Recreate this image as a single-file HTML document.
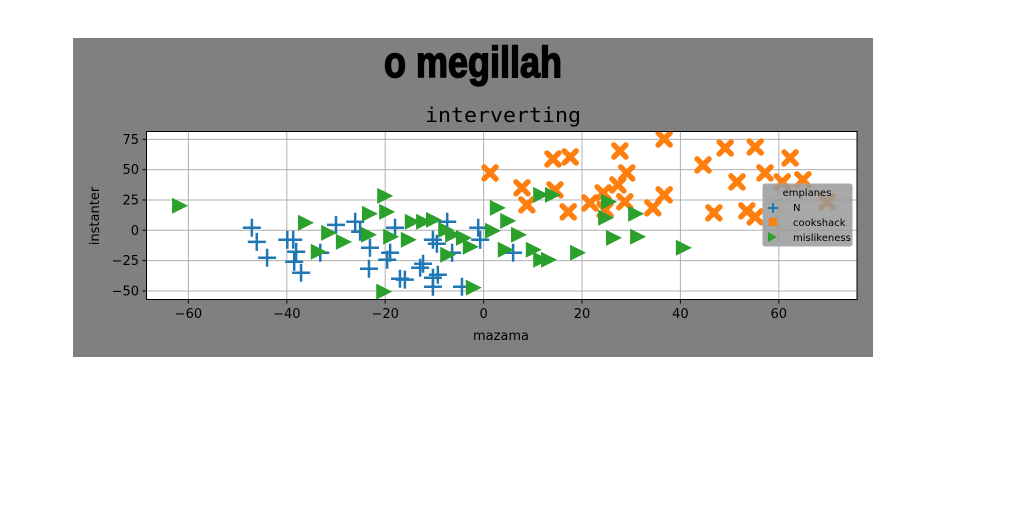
<!DOCTYPE html>
<html><head><meta charset="utf-8"><style>
body{margin:0;background:#fff;}
svg{display:block;font-family:"DejaVu Sans","Liberation Sans",sans-serif;}
</style></head><body>
<svg id="chart" width="1024" height="512" viewBox="0 0 1024 512" xmlns="http://www.w3.org/2000/svg">
<rect x="73" y="38" width="800" height="319" fill="#808080"/>
<text x="473" y="77" text-anchor="middle" font-family="'Liberation Sans Narrow','Liberation Sans',sans-serif" font-weight="bold" font-size="44" textLength="178" lengthAdjust="spacingAndGlyphs" fill="#000" stroke="#000" stroke-width="1.6">o megillah</text>
<text x="503" y="122" text-anchor="middle" font-family="'DejaVu Sans Mono','Liberation Mono',monospace" font-size="20" textLength="156" lengthAdjust="spacingAndGlyphs" fill="#000">interverting</text>
<rect x="146.5" y="131.5" width="710.5" height="168" fill="#fff"/>
<g id="grid"></g>
<g id="marks"></g>
<rect x="146.5" y="131.5" width="710.5" height="168" fill="none" stroke="#000" stroke-width="1"/>
<g id="ticks"></g>
<text x="501" y="340" text-anchor="middle" font-size="13" fill="#000">mazama</text>
<text transform="translate(99,216) rotate(-90)" text-anchor="middle" font-size="13" fill="#000">instanter</text>
<g>
<rect x="763" y="184" width="89" height="62" fill="#999" fill-opacity="0.85" stroke="#aaa" rx="2"/>
<text x="807" y="196" text-anchor="middle" font-size="10" fill="#000">emplanes</text>
<g><path d="M768,208h10M773,203v10" stroke="#1f77b4" stroke-width="2"/><text x="793" y="211" font-size="10">N</text></g>
<g><rect x="769" y="218" width="8" height="8" fill="#ff7f0e"/><text x="793" y="226" font-size="10">cookshack</text></g>
<g><path d="M768,232l9,5l-9,5z" fill="#2ca02c"/><text x="793" y="241" font-size="10">mislikeness</text></g>
</g>
</svg>
<script>
const xTicks=[-60,-40,-20,0,20,40,60];
const yTicks=[-50,-25,0,25,50,75];
const nX=[-47.1,-46.1,-44.0,-39.9,-38.7,-38.1,-38.5,-37.1,-33.2,-30.0,-26.1,-25.1,-23.1,-23.3,-19.6,-18.0,-19.0,-17.0,-16.0,-12.9,-12.3,-10.3,-9.5,-7.4,-10.3,-9.3,-10.3,-4.4,-1.1,-0.7,-6.4,6.0];
const nY=[2.1,-9.5,-22.6,-7.8,-7.8,-17.7,-25.9,-35,-18.5,4.5,7,-1.2,-14.4,-31.7,-24.3,2.1,-18.5,-39.9,-40.7,-30.9,-27.6,-7.8,-11.1,7,-39.1,-36.6,-46.5,-46.5,2.1,-7.8,-18.5,-18.5];
const cX=[1.3,7.8,8.8,14.1,17.6,14.5,17.2,21.6,24.3,24.7,27.3,27.7,29.1,28.7,34.4,36.7,36.7,44.6,46.8,49.1,51.5,55.2,57.2,53.5,55.2,62.3,60.7,64.9,69.8];
const cY=[47.3,35,21,58.8,60.5,33.3,15.2,22.6,30.9,16.9,37.4,65.4,47.3,23.5,18.5,75.3,29.2,53.9,14.4,67.9,39.9,68.7,47.3,16.0,11.1,59.7,39.9,41.6,23.5];
const mX=[-61.9,-20.2,-36.3,-19.8,-23.3,-31.6,-28.6,-33.7,-23.5,-19.0,-15.4,-14.6,-12.3,-10.3,-7.8,-6.4,-4.2,-2.8,-7.4,-20.4,-2.2,1.7,2.7,4.8,7.0,4.3,10.0,11.5,13.1,19.0,11.5,13.9,25.3,24.7,30.8,26.3,31.2,40.5];
const mY=[20.2,28.4,6.2,15.2,13.6,-2.1,-9.5,-17.7,-3.7,-5.3,-7.8,7,7,8.6,0.4,-3.7,-6.2,-13.6,-20.2,-50.6,-47.3,-0.4,18.5,7.8,-3.7,-16.0,-16.0,-24.3,-24.3,-18.5,29.2,29.2,23.5,10.3,13.6,-6.2,-5.3,-14.4];
const NS='http://www.w3.org/2000/svg';
function sx(v){return 483.6+v*4.92;}
function sy(v){return 230.3-v*1.213;}
function mk(tag,attrs,parent){const e=document.createElementNS(NS,tag);for(const k in attrs)e.setAttribute(k,attrs[k]);parent.appendChild(e);return e;}
const grid=document.getElementById('grid'),ticks=document.getElementById('ticks'),marks=document.getElementById('marks');
xTicks.forEach(t=>{const x=sx(t);
 const g=mk('line',{x1:x,x2:x,y1:131.5,y2:299.5,stroke:'#b0b0b0','stroke-width':1},grid);
 
 
 const tk=mk('line',{x1:x,x2:x,y1:299.5,y2:303.5,stroke:'#000'},ticks);
 
 
 const lb=mk('text',{x:x,y:318,'text-anchor':'middle','font-size':13},ticks);lb.textContent=(t<0?'\u2212'+(-t):t);
 
 
});
yTicks.forEach(t=>{const y=sy(t);
 const g=mk('line',{x1:146.5,x2:857,y1:y,y2:y,stroke:'#b0b0b0','stroke-width':1},grid);
 
 
 const tk=mk('line',{x1:142.5,x2:146.5,y1:y,y2:y,stroke:'#000'},ticks);
 
 
 const lb=mk('text',{x:139,y:y+4.5,'text-anchor':'end','font-size':13},ticks);lb.textContent=(t<0?'\u2212'+(-t):t);
 
 
});
nX.forEach((v,i)=>{const x=sx(v),y=sy(nY[i]);
 const p=mk('path',{d:`M${x-9},${y}h18M${x},${y-9}v18`,stroke:'#1f77b4','stroke-width':2.5,fill:'none'},marks);
 
 
});
cX.forEach((v,i)=>{const x=sx(v),y=sy(cY[i]);
 const p=mk('path',{d:`M${x-6},${y-6}L${x+6},${y+6}M${x+6},${y-6}L${x-6},${y+6}`,stroke:'#ff7f0e','stroke-width':5.5,'stroke-linecap':'round',fill:'none'},marks);
 
 
});
mX.forEach((v,i)=>{const x=sx(v),y=sy(mY[i]);
 const p=mk('path',{d:`M${x-7},${y-8}L${x+9},${y}L${x-7},${y+8}Z`,fill:'#2ca02c'},marks);
 
 
});
</script>
</body></html>
